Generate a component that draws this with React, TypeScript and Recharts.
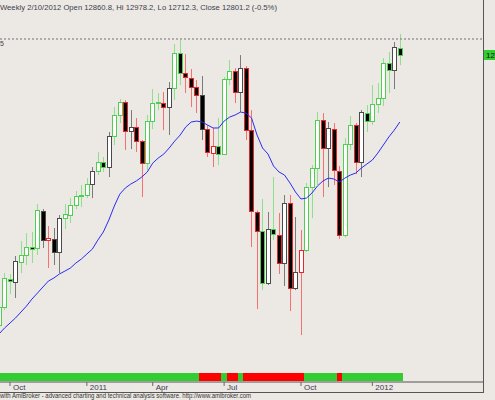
import { Bar, ComposedChart, Line, ReferenceLine, XAxis, YAxis } from "recharts";

// weekly bars, Friday dates; 10/1/10 is week 0 on the x axis
const weeks = [
  "9/17/10", "9/24/10", "10/1/10", "10/8/10", "10/15/10", "10/22/10", "10/29/10", "11/5/10",
  "11/12/10", "11/19/10", "11/26/10", "12/3/10", "12/10/10", "12/17/10", "12/24/10", "12/31/10",
  "1/7/11", "1/14/11", "1/21/11", "1/28/11", "2/4/11", "2/11/11", "2/18/11", "2/25/11",
  "3/4/11", "3/11/11", "3/18/11", "3/25/11", "4/1/11", "4/8/11", "4/15/11", "4/22/11",
  "4/29/11", "5/6/11", "5/13/11", "5/20/11", "5/27/11", "6/3/11", "6/10/11", "6/17/11",
  "6/24/11", "7/1/11", "7/8/11", "7/15/11", "7/22/11", "7/29/11", "8/5/11", "8/12/11",
  "8/19/11", "8/26/11", "9/2/11", "9/9/11", "9/16/11", "9/23/11", "9/30/11", "10/7/11",
  "10/14/11", "10/21/11", "10/28/11", "11/4/11", "11/11/11", "11/18/11", "11/25/11", "12/2/11",
  "12/9/11", "12/16/11", "12/23/11", "12/30/11", "1/6/12", "1/13/12", "1/20/12", "1/27/12",
  "2/3/12", "2/10/12",
];

const opens = [
  10491, 10645, 10884, 10858, 11029, 11089, 11157, 11149, 11465, 11217, 11226, 11115, 11405, 11431, 11516, 11593,
  11602, 11696, 11807, 11884, 11841, 12106, 12286, 12397, 12149, 12183, 12063, 11875, 12234, 12388, 12388, 12354,
  12516, 12816, 12645, 12602, 12525, 12457, 12166, 11961, 12021, 11952, 12593, 12662, 12482, 12687, 12157, 11457,
  11294, 10850, 11311, 11260, 11021, 11534, 10807, 10944, 11132, 11670, 11833, 12243, 12004, 12166, 11807, 11260,
  12038, 12200, 11884, 12303, 12234, 12380, 12431, 12730, 12670, 12860.8,
];
const highs = [
  10680, 10935, 10927, 11081, 11209, 11277, 11286, 11525, 11482, 11337, 11320, 11431, 11525, 11576, 11636, 11687,
  11747, 11841, 11969, 11927, 12140, 12354, 12422, 12414, 12328, 12260, 12072, 12286, 12508, 12474, 12482, 12568,
  12893, 12927, 12807, 12679, 12585, 12619, 12200, 12175, 12260, 12611, 12756, 12687, 12798, 12704, 12328, 11470,
  11568, 11457, 11756, 11448, 11602, 11602, 11414, 11303, 11705, 11858, 12311, 12303, 12226, 12217, 11850, 12089,
  12277, 12217, 12328, 12371, 12542, 12559, 12773, 12824, 12910, 12978.2,
];
const lows = [
  10470, 10619, 10756, 10722, 10935, 11004, 11021, 11089, 11149, 10978, 11004, 10935, 11311, 11363, 11482, 11499,
  11576, 11576, 11773, 11799, 11756, 12029, 12217, 11987, 11995, 11969, 11585, 11816, 12166, 12328, 12157, 12115,
  12414, 12542, 12474, 12354, 12303, 12072, 11927, 11841, 11858, 11944, 12542, 12388, 12311, 12072, 11157, 10627,
  10790, 10833, 11217, 10927, 10824, 10610, 10790, 10405, 11115, 11405, 11687, 11585, 11670, 11687, 11226, 11240,
  11987, 11781, 11756, 12140, 12200, 12303, 12363, 12474, 12508, 12712.3,
];
const closes = [
  10645, 10893, 10867, 11038, 11089, 11157, 11140, 11474, 11217, 11234, 11115, 11405, 11440, 11516, 11593, 11602,
  11696, 11807, 11884, 11841, 12106, 12286, 12397, 12149, 12183, 12063, 11875, 12234, 12388, 12397, 12354, 12516,
  12816, 12645, 12611, 12525, 12457, 12166, 11969, 12021, 11952, 12593, 12662, 12482, 12687, 12157, 11465, 11294,
  10850, 11311, 11269, 11021, 11534, 10807, 10944, 11132, 11670, 11833, 12243, 12004, 12175, 11816, 11260, 12038,
  12200, 11884, 12311, 12234, 12380, 12431, 12730, 12670, 12867, 12801.2,
];
// moving average (blue line)
const avg = [
  10414, 10465, 10508, 10551, 10602, 10653, 10713, 10764, 10816, 10867, 10893, 10927, 10952, 10978, 11021, 11055,
  11098, 11140, 11217, 11286, 11388, 11508, 11610, 11662, 11696, 11722, 11756, 11799, 11875, 11918, 11952, 12004,
  12063, 12115, 12183, 12226, 12234, 12226, 12200, 12175, 12175, 12234, 12268, 12286, 12311, 12303, 12260, 12115,
  12004, 11952, 11850, 11799, 11773, 11705, 11628, 11568, 11576, 11619, 11679, 11722, 11747, 11739, 11713, 11747,
  11773, 11790, 11833, 11867, 11901, 11961, 12029, 12098, 12157, 12226,
];
// candle outline colour: g = green, r = red, k = grey
const tones = (
  "g g g k g g g g k r k k g g g g g k g g k g g r k r r g g g r k " +
  "g g r r r k r r g g g r k r r r g k g r k r k r g g g r k r r g " +
  "g r k g g g g g k g"
).split(" ");
// bottom ribbon: u = green, d = red
const ribbon = (
  "u u u u u u u u u u u u u u u u u u u u u u u u u u u u u u u u u u u u u " +
  "d d d d u d d u d d d d d d d d d d d u u u u u u d u u u u u u u u u u u"
).split(" ");

const tickWeeks = ["10/1/10", "1/7/11", "4/1/11", "7/1/11", "10/7/11", "1/6/12"];
const tickLabels = ["Oct", "2011", "Apr", "Jul", "Oct", "2012"];

const FIRST = -2;
const X_DOMAIN = [-1.822, 86.157];
const Y_DOMAIN = [10004, 13269];

const rows = weeks.map((w, k) => ({
  i: k + FIRST,
  week: w,
  open: opens[k],
  high: highs[k],
  low: lows[k],
  close: closes[k],
  range: [lows[k], highs[k]],
  ma: avg[k],
  tone: tones[k],
  ribbon: ribbon[k],
  one: 1,
}));
const tickIdx = tickWeeks.map((w) => weeks.indexOf(w) + FIRST);

const EDGE: Record<string, string> = { g: "#4fcf4f", r: "#e8262a", k: "#4a4a4a" };
const WICK: Record<string, string> = { g: "#8ee08e", r: "#f77070", k: "#7a7a7a" };
const FONT = "'Liberation Sans', Arial, sans-serif";

function Candle(props: any) {
  const { x, y, width, height, payload } = props;
  if (!payload || height == null) return null;
  const top = height >= 0 ? y : y + height;
  const h = Math.abs(height);
  const span = payload.high - payload.low || 1;
  const py = (v: number) => top + ((payload.high - v) / span) * h;
  const cx = Math.floor(x + width / 2) + 0.5;
  const yo = py(payload.open);
  const yc = py(payload.close);
  const bTop = Math.round(Math.min(yo, yc)) + 0.5;
  const bH = Math.max(1, Math.round(Math.abs(yo - yc)));
  const up = payload.close >= payload.open;
  return (
    <g>
      <line x1={cx} x2={cx} y1={top} y2={top + h} stroke={WICK[payload.tone]} />
      <rect x={cx - 2} y={bTop} width={4} height={bH} fill={up ? "#fff" : "#000"} stroke={EDGE[payload.tone]} />
    </g>
  );
}

// ribbon cell: fill the whole week slot so neighbours touch
function RibbonCell(props: any) {
  const { x, y, width, height, payload } = props;
  if (!payload) return null;
  const cx = x + width / 2;
  return (
    <rect
      x={cx - 3}
      y={y}
      width={6}
      height={height}
      fill={payload.ribbon === "u" ? "#33cc33" : "#ff0000"}
      shapeRendering="crispEdges"
    />
  );
}

function MonthTick(props: any) {
  const { x, y, payload } = props;
  const label = tickLabels[tickIdx.indexOf(payload.value)];
  return (
    <text x={x + 3} y={y + 1.5} fontSize={8} fill="#3d3a55" fontFamily={FONT}>
      {label}
    </text>
  );
}

export default function App() {
  return (
    <div style={{ position: "relative", width: 495, height: 400, background: "#ece9e4", overflow: "hidden" }}>
      <style>{"body{margin:0}"}</style>

      <div style={{ position: "absolute", left: 0, top: 0 }}>
        <ComposedChart width={483} height={392} data={rows} margin={{ top: 0, right: 0, bottom: 0, left: 0 }}>
          <XAxis
            type="number"
            dataKey="i"
            domain={X_DOMAIN}
            allowDataOverflow
            ticks={tickIdx}
            interval={0}
            height={10}
            tickSize={4}
            axisLine={{ stroke: "#555" }}
            tickLine={{ stroke: "#666" }}
            tick={<MonthTick />}
          />
          <YAxis yAxisId="p" domain={Y_DOMAIN} allowDataOverflow hide />
          <ReferenceLine yAxisId="p" y={12935} stroke="#999" strokeDasharray="2 2" strokeWidth={1.5} />
          <Line
            yAxisId="p"
            dataKey="ma"
            type="linear"
            stroke="#2a2af5"
            strokeWidth={1}
            dot={false}
            isAnimationActive={false}
          />
          <Bar yAxisId="p" dataKey="range" barSize={4} shape={<Candle />} isAnimationActive={false} />
        </ComposedChart>
      </div>

      <div style={{ position: "absolute", left: 0, top: 373 }}>
        <ComposedChart width={483} height={8} data={rows} margin={{ top: 0, right: 0, bottom: 0, left: 0 }}>
          <XAxis type="number" dataKey="i" domain={X_DOMAIN} allowDataOverflow hide />
          <YAxis domain={[0, 1]} allowDataOverflow hide />
          <Bar dataKey="one" barSize={4} shape={<RibbonCell />} isAnimationActive={false} />
        </ComposedChart>
      </div>

      <svg width={495} height={400} style={{ position: "absolute", left: 0, top: 0, pointerEvents: "none" }}>
        <text x={0} y={9.5} fontSize={8} fill="#3d3d4d" fontFamily={FONT} textLength={277} lengthAdjust="spacingAndGlyphs">
          Weekly 2/10/2012 Open 12860.8, Hi 12978.2, Lo 12712.3, Close 12801.2 (-0.5%)
        </text>
        <text x={0} y={45.5} fontSize={7} fill="#444" fontFamily={FONT}>
          5
        </text>
        <line x1={483.5} x2={483.5} y1={0} y2={392} stroke="#555" />
        <line x1={0} x2={484} y1={392.5} y2={392.5} stroke="#555" />
        <rect x={484} y={50} width={11} height={10} fill="#33cc33" />
        <text x={486} y={58} fontSize={8} fill="#111" fontFamily={FONT}>
          12801.2
        </text>
        <text x={0} y={397.5} fontSize={6.5} fill="#333" fontFamily={FONT} textLength={251} lengthAdjust="spacingAndGlyphs">
          with AmiBroker - advanced charting and technical analysis software. http://www.amibroker.com
        </text>
      </svg>
    </div>
  );
}
